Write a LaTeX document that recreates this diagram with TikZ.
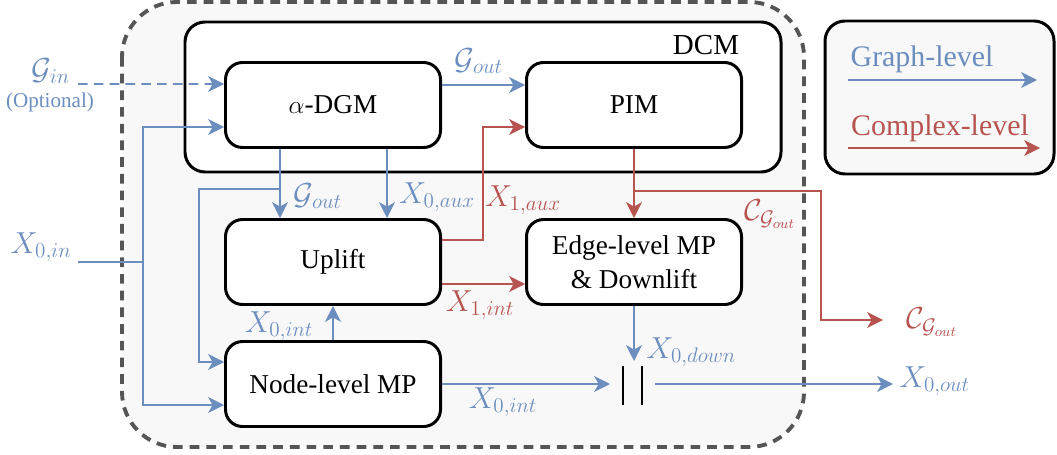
\documentclass[tikz,border=0pt]{standalone}
\usepackage{fontspec}
\setmainfont{Liberation Serif}
\definecolor{GraphBlue}{HTML}{6C8EBF}
\definecolor{ComplexRed}{HTML}{B85450}
\definecolor{PanelFill}{HTML}{F8F8F8}
\definecolor{PanelDash}{HTML}{555555}
\usetikzlibrary{calc, arrows.meta}
\tikzset{
    block/.style={
        draw=black, line width=1.7pt, rounded corners=3.4mm, fill=white,
        minimum width=43mm, minimum height=17mm, inner sep=0pt, align=center,
        font=\fontsize{15.5}{19.5}\selectfont
    },
    graph line/.style={draw=GraphBlue, line width=1.1pt},
    graph arrow/.style={graph line, -{Stealth[length=9pt, width=9pt, inset=2.5pt]}},
    complex line/.style={draw=ComplexRed, line width=1.1pt},
    complex arrow/.style={complex line, -{Stealth[length=9pt, width=9pt, inset=2.5pt]}},
    graph label/.style={text=GraphBlue, inner sep=0pt, font=\fontsize{16.5}{19}\selectfont},
    complex label/.style={text=ComplexRed, inner sep=0pt, font=\fontsize{16.5}{19}\selectfont}
}

\begin{document}
\begin{tikzpicture}[x=0.2mm, y=-0.2mm]
\useasboundingbox (0,0) rectangle (1057,454);

% panels
\draw[draw=PanelDash, fill=PanelFill, line width=2.2pt, dash pattern=on 5.5pt off 4pt,
    rounded corners=11mm] (122,2) rectangle (804,447);
\draw[line width=1.7pt, fill=white, rounded corners=4mm] (185,22) rectangle (781,172);
\node[font=\fontsize{16.5}{19}\selectfont] (dcm) at (706,45) {DCM};

\draw[line width=1.7pt, fill=PanelFill, rounded corners=4mm] (825,21) rectangle (1054,174);
\node[text=GraphBlue, font=\fontsize{17}{20}\selectfont] (glegend) at (922,59) {Graph-level};
\node[text=ComplexRed, font=\fontsize{17}{20}\selectfont] (clegend) at (940,128) {Complex-level};
\coordinate (ga) at (848,80);
\coordinate (gb) at (1037,80);
\coordinate (ca) at (848,148);
\coordinate (cb) at (1040,148);
\draw[graph arrow] (ga) -- (gb);
\draw[complex arrow] (ca) -- (cb);

% blocks
\node[block] (dgm) at (333,105) {$\alpha$-DGM};
\node[block] (pim) at (634,105) {PIM};
\node[block] (uplift) at (333,262) {Uplift};
\node[block] (edgemp) at (634,262) {Edge-level MP\\\& Downlift};
\node[block] (nodemp) at (333,384) {Node-level MP};

% inputs
\coordinate (gin) at (78,84);
\node[graph label] (ginlabel) at (51,71) {$\mathcal{G}_{in}$};
\node[text=GraphBlue, font=\fontsize{12}{14}\selectfont] (optional) at (50,102) {(Optional)};
\draw[graph arrow, dash pattern=on 5.5pt off 3.5pt] (gin) -- ([yshift=4.2mm]dgm.west);

\coordinate (x0in) at (78,262);
\coordinate (insplit) at (143,262);
\node[graph label] (x0inlabel) at (41,247) {$X_{0,in}$};
\draw[graph line] (x0in) -- (insplit);
\draw[graph arrow] (insplit) |- ([yshift=-4.4mm]dgm.west);
\draw[graph arrow] (insplit) |- ([yshift=-4.2mm]nodemp.west);

% graph-level flow
\draw[graph arrow] ([yshift=4mm]dgm.east) -- ([yshift=4mm]pim.west);
\node[graph label] (goutlabel) at (479,61) {$\mathcal{G}_{out}$};

\coordinate (gsplit) at (280,189);
\coordinate (gbend) at (199,189);
\draw[graph arrow] ([xshift=-10.6mm]dgm.south) -- ([xshift=-10.6mm]uplift.north);
\draw[graph arrow] (gsplit) -- (gbend) |- ([yshift=4.4mm]nodemp.west);
\node[graph label] (goutdown) at (318,196) {$\mathcal{G}_{out}$};

\draw[graph arrow] ([xshift=10.8mm]dgm.south) -- ([xshift=10.8mm]uplift.north);
\node[graph label] (x0aux) at (437,197) {$X_{0,aux}$};

\draw[graph arrow] (nodemp.north) -- (uplift.south);
\node[graph label] (x0intup) at (279,326) {$X_{0,int}$};

% complex-level flow
\coordinate (auxstart) at ([yshift=4.4mm]uplift.east);
\coordinate (auxbend) at (483,240);
\coordinate (auxend) at ([yshift=-4.4mm]pim.west);
\draw[complex arrow] (auxstart) -- (auxbend) |- (auxend);
\node[complex label] (x1aux) at (523,200) {$X_{1,aux}$};

\draw[complex arrow] ([yshift=-4.4mm]uplift.east) -- ([yshift=-4.4mm]edgemp.west);
\node[complex label] (x1int) at (480,305) {$X_{1,int}$};

\coordinate (csplit) at (634,191);
\coordinate (cbend) at (821,320);
\coordinate (cout) at (883,320);
\draw[complex arrow] (pim.south) -- (edgemp.north);
\draw[complex arrow] (csplit) -| (cbend) -- (cout);
\node[complex label] (cgout) at (770,214) {$\mathcal{C}_{\mathcal{G}_{out}}$};
\node[complex label] (cgoutend) at (932,322) {$\mathcal{C}_{\mathcal{G}_{out}}$};

% concatenation
\coordinate (barrier) at (632.5,385);
\draw[line width=1pt] ($(barrier)+(-9.5,-19)$) -- ++(0,39);
\draw[line width=1pt] ($(barrier)+(9.5,-19)$) -- ++(0,39);

\coordinate (barin) at (610,384);
\coordinate (barup) at (634,361);
\coordinate (barout) at (655,384);
\coordinate (x0out) at (893,384);
\draw[graph arrow] (nodemp.east) -- (barin);
\node[graph label] (x0intright) at (503,402) {$X_{0,int}$};
\draw[graph arrow] (edgemp.south) -- (barup);
\node[graph label, anchor=west] (x0down) at (646,352) {$X_{0,down}$};
\draw[graph arrow] (barout) -- (x0out);
\node[graph label, anchor=west] (x0outlabel) at (899,381) {$X_{0,out}$};

\end{tikzpicture}
\end{document}
